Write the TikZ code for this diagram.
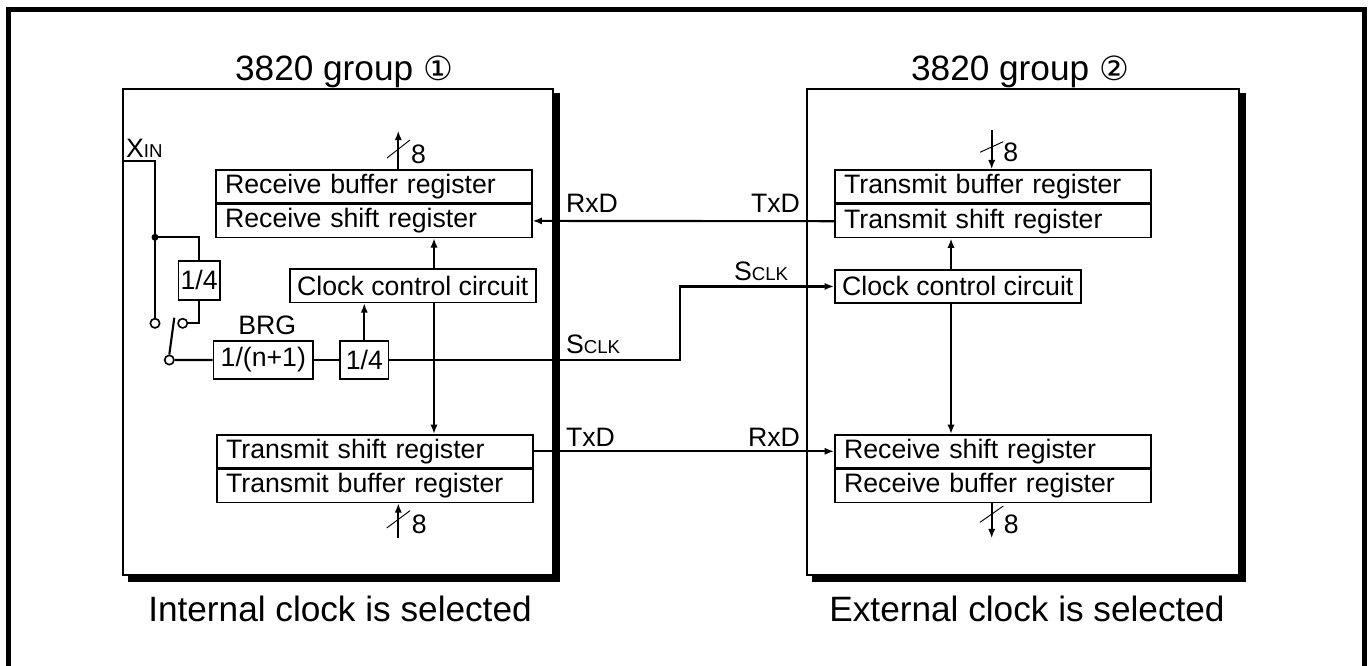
\documentclass[tikz,border=0pt]{standalone}
\usepackage{fontspec}
\setmainfont{Liberation Sans}
\newfontfamily\circfont{DejaVu Sans}
\usetikzlibrary{arrows.meta, calc, positioning}
\newcommand{\sml}[1]{{\fontsize{14}{16}\selectfont #1}}

\begin{document}
\begin{tikzpicture}[
    x=0.75pt, y=-0.75pt,
    >={Latex[length=7pt,width=5.4pt]},
    line width=1.6pt,
    every node/.style={font=\fontsize{20}{24}\selectfont, inner sep=0pt},
    reg/.style={draw, line width=1.2pt, text width=223pt, inner xsep=7pt, minimum height=24.75pt, align=left},
    blk/.style={draw, line width=1.2pt, minimum height=25pt, align=center},
    term/.style={draw, circle, fill=white, minimum size=7pt, line width=1.2pt},
    big/.style={font=\fontsize{26.4}{30}\selectfont},
    bus/.style={line width=0.7pt},
]
\useasboundingbox (0,0) rectangle (1370,666);
% outer frame (open at the bottom)
\draw[line width=3.75pt] (8.5,670) -- (8.5,9.5) -- (1364,9.5) -- (1364,670);
% the two chips, with their shadows
\fill (128,93.5) rectangle (559.5,581.7);
\draw[fill=white] (122.7,89.3) rectangle (552.7,575);
\fill (811.7,93.5) rectangle (1246,581.7);
\draw[fill=white] (806.7,89.3) rectangle (1239,575);
\node[big, anchor=base] (ttlA) at (344,81) {3820 group {\circfont\fontsize{25}{28}\selectfont ①}};
\node[big, anchor=base] (ttlB) at (1020,81) {3820 group {\circfont\fontsize{25}{28}\selectfont ②}};
\node[big, anchor=base] (capA) at (340,621) {Internal clock is selected};
\node[big, anchor=base] (capB) at (1027,621) {External clock is selected};

% chip 1: registers and clock
\node[reg, anchor=north west] (rbufA) at (215,169) {Receive buffer register};
\node[reg, below=0pt of rbufA] (rsftA) {Receive shift register};
\node[reg, anchor=north west] (tsftA) at (216,434) {Transmit shift register};
\node[reg, below=0pt of tsftA] (tbufA) {Transmit buffer register};
\node[blk, minimum width=184.5pt, anchor=north west] (cccA) at (289,268.3) {Clock control circuit};
\node[blk, minimum width=74.7pt, minimum height=28.7pt, anchor=north west] (brg) at (212.7,340) {1/(n+1)};
\node[blk, minimum width=36.3pt, minimum height=28.7pt, anchor=north west] (divB) at (339.3,340) {1/4};
\node[blk, minimum width=31pt, minimum height=29.3pt, anchor=north west] (divA) at (177.7,260) {1/4};
\node[above=3pt of brg, xshift=3pt] (brglbl) {BRG};
% clock source switch
\node[term] (swX) at (155,323.3) {};
\node[term] (swD) at (182.7,323.3) {};
\node[term] (swC) at (169.3,360) {};
\coordinate (blade) at (174.3,317.7);
\coordinate (xin) at (122.7,161);
\coordinate (junc) at (155,237.3);
\node[anchor=base west, font=\fontsize{20}{24}\selectfont] (xinlbl) at (125,157.3) {X{\fontsize{14}{16}\selectfont IN}};
\draw (xin) -- (xin -| swX) -- (swX.north);
\fill (junc) circle (3.5);
\draw (junc) -- (junc -| divA) -- (divA.north);
\draw (divA.south) |- (swD.east);
\draw (swC.north) -- (blade);
\draw (swC.east) -- (brg.west);
\draw (brg.east) -- (divB.west);
\draw[->] (divB.north) -- (divB.north |- cccA.south);
\coordinate (ckA) at (434,0);
\draw[->] (cccA.north -| ckA) -- (rsftA.south -| ckA);
\draw[->] (cccA.south -| ckA) -- (tsftA.north -| ckA);
% 8-bit buses, chip 1
\coordinate (busA) at (398.3,130.7);
\draw[->] (rbufA.north -| busA) -- (busA);
\draw[bus] (387,158) -- (410,140);
\node[anchor=base west] (nA) at (410,164) {8};
\coordinate (busB) at (398.3,538);
\draw[->] (busB) -- (tbufA.south -| busB);
\draw[bus] (386.7,528) -- (410,510.7);
\node[anchor=base west] (nB) at (410.7,533.3) {8};

% chip 2: registers and clock
\node[reg, anchor=north west] (tbufB) at (834,169.3) {Transmit buffer register};
\node[reg, below=0pt of tbufB] (tsftB) {Transmit shift register};
\node[reg, anchor=north west] (rsftB) at (834,434) {Receive shift register};
\node[reg, below=0pt of rsftB] (rbufB) {Receive buffer register};
\node[blk, minimum width=184.5pt, anchor=north west] (cccB) at (834,269) {Clock control circuit};
\coordinate (ckB) at (951,0);
\draw[->] (cccB.north -| ckB) -- (tsftB.south -| ckB);
\draw[->] (cccB.south -| ckB) -- (rsftB.north -| ckB);
% 8-bit buses, chip 2
\coordinate (busC) at (991.7,130);
\draw[->] (busC) -- (tbufB.north -| busC);
\draw[bus] (980,152.3) -- (1003.3,141.7);
\node[anchor=base west] (nC) at (1002.3,161.7) {8};
\coordinate (busD) at (991.7,538.3);
\draw[->] (rbufB.south -| busD) -- (busD);
\draw[bus] (980,522.3) -- (1003.3,506);
\node[anchor=base west] (nD) at (1002.7,533.3) {8};

% serial lines between the chips
\draw[->] (tsftB.west) -- (rsftA.east);
\draw[->] (tsftA.east) -- (rsftB.west);
\coordinate (skBend) at (680,360);
\draw[->] (divB.east) -- (divB.east -| skBend) |- (cccB.west);
\node[anchor=base west] (rxdA) at (565,212.5) {RxD};
\node[anchor=base east] (txdB) at (801,212.5) {TxD};
\node[anchor=base west] (sclkA) at (565,353.3) {S\sml{CLK}};
\node[anchor=base west] (sclkB) at (733,280.7) {S\sml{CLK}};
\node[anchor=base west] (txdA) at (565,446.7) {TxD};
\node[anchor=base east] (rxdB) at (801,446.7) {RxD};
\end{tikzpicture}
\end{document}
